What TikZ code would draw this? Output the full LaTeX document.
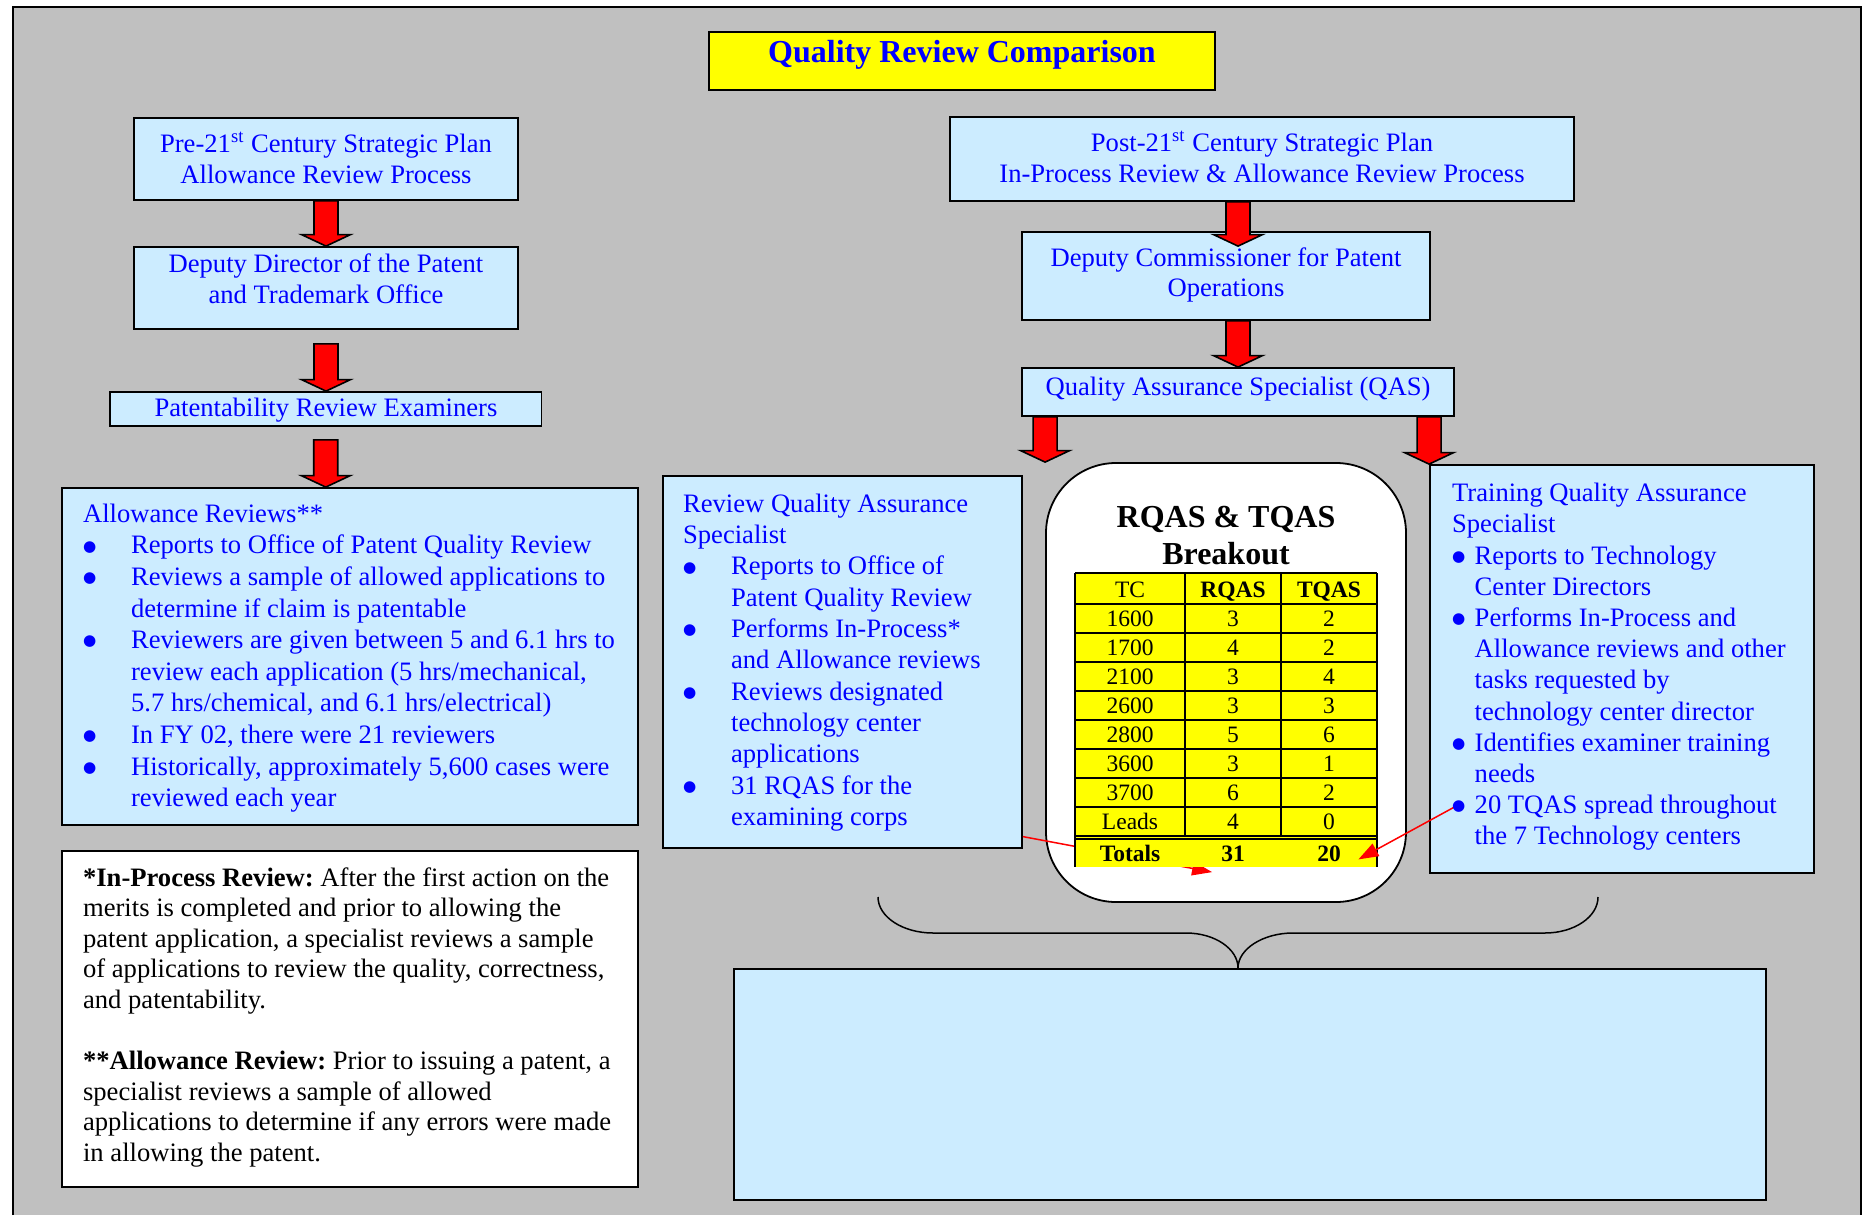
\documentclass[tikz,border=0pt]{standalone}
\usepackage{fontspec}
\setmainfont{Liberation Serif}
\newfontfamily\bulfont{DejaVu Sans}
\usetikzlibrary{fit,calc,arrows.meta}
\definecolor{bggray}{HTML}{C0C0C0}
\definecolor{lblue}{HTML}{CCECFF}
\definecolor{tblue}{HTML}{0000FF}
\definecolor{tyellow}{HTML}{FFFF00}
\definecolor{tred}{HTML}{FF0000}
\frenchspacing
\newcommand{\bul}[1]{\makebox[#1][l]{\raisebox{1.4pt}{\bulfont\fontsize{7.6}{8}\selectfont ●}}}
\newcommand{\nsp}{\spaceskip=0pt\xspaceskip=0pt\relax}
\newcommand{\barrow}[2]{\draw[blockarrow] let \p1=(#1), \p2=(#2) in (\x1-6pt,\y1) -- (\x1-6pt,\y2+5.75pt) -- (\x1-12.25pt,\y2+5.75pt) -- (\x1,\y2) -- (\x1+12.25pt,\y2+5.75pt) -- (\x1+6pt,\y2+5.75pt) -- (\x1+6pt,\y1) -- cycle;}
\begin{document}
\begin{tikzpicture}[x=0.5pt,y=-0.5pt,
 box/.style={draw=black,line width=0.9pt,inner sep=0pt},
 bluebox/.style={box,fill=lblue},
 blockarrow/.style={draw=black,line width=0.8pt,fill=tred,line join=miter},
 ctext/.style={text=tblue,font=\fontsize{13.3}{15.8}\selectfont,inner sep=0pt,anchor=base},
 ltext/.style={text=tblue,inner sep=0pt,anchor=base west,align=left,text width=300pt},
 cell/.style={inner sep=0pt,anchor=base,font=\fontsize{11.75}{14}\selectfont},
 tline/.style={draw=black,line width=0.9pt},
 redarrow/.style={draw=tred,line width=0.75pt,-{Triangle[length=10pt,width=7pt]},fill=tred}
]
\useasboundingbox (0,0) rectangle (1862,1215);
\fill[white] (0,0) rectangle (1862,1215);
\fill[bggray] (13,7) rectangle (1862,1215);
\draw[line width=1pt] (13,1215) -- (13,7) -- (1860.5,7) -- (1860.5,1215);

% title
\node[box,fill=tyellow,fit={(709,32) (1215,90)}] (title) {};
% left column boxes
\node[bluebox,fit={(134,118) (518,200)}] (pre) {};
\node[bluebox,fit={(134,247) (518,329)}] (dd) {};
\node[bluebox,fit={(110,392) (541.5,426)}] (pat) {};
\node[bluebox,fit={(62,488) (638,825)}] (allow) {};
\node[box,fill=white,fit={(62,851) (638,1187)}] (foot) {};
% right column boxes
\node[bluebox,fit={(950,117) (1574,201)}] (post) {};
\node[bluebox,fit={(1022,232) (1430,320)}] (dc) {};
\node[bluebox,fit={(1022,368) (1454,416)}] (qas) {};
\node[bluebox,fit={(662.7,476) (1022,847.7)}] (rqa) {};
\node[box,fill=white,rounded corners=35pt,fit={(1046,463) (1406,902)}] (rbox) {};
\node[bluebox,fit={(1430,465) (1814,873)}] (tqas) {};
\node[bluebox,fit={(734,969) (1766,1200)}] (bot) {};

% block arrows
\coordinate (a2s) at ($(dd.south)+(0,14)$);
\coordinate (a3s) at ($(pat.south)+(0,13)$);
\coordinate (a3e) at (pat.south |- allow.north);
\coordinate (a4s) at (qas.north |- post.south);
\coordinate (a4e) at ($(qas.north |- dc.north)+(0,15)$);
\coordinate (a5s) at (qas.north |- dc.south);
\coordinate (a6s) at (rbox.north west |- qas.south);
\coordinate (a7s) at (tqas.north west |- qas.south);
\barrow{pre.south}{dd.north}
\barrow{a2s}{pat.north}
\barrow{a3s}{a3e}
\barrow{a4s}{a4e}
\barrow{a5s}{qas.north}
\barrow{a6s}{rbox.north west}
\barrow{a7s}{tqas.north west}

% red arrow from RQAS box (under the table)
\coordinate (r1s) at ($(rqa.south east)+(0,-12)$);
\coordinate (r1e) at ($(rbox.north west)+(167,410)$);
\draw[redarrow] (r1s) -- (r1e);

% table
\node[fill=tyellow,inner sep=0pt,fit={(1075,573) (1377,867)}] (tbl) {};
\foreach \yy in {573,604,633,662,691,720,749,778,807,836,839}
  \draw[tline] (1075,\yy) -- (1377,\yy);
\draw[tline] (1075,573) -- (1075,867);
\draw[tline] (1377,573) -- (1377,867);
\foreach \xx in {1185,1281} \draw[tline] (\xx,573) -- (\xx,836);
\node[cell] (hTC) at (1130,597) {TC};
\node[cell,font=\fontsize{11.75}{14}\selectfont\bfseries] (hRQ) at (1233,597) {RQAS};
\node[cell,font=\fontsize{11.75}{14}\selectfont\bfseries] (hTQ) at (1329,597) {TQAS};
\foreach \tc/\rq/\tq [count=\i] in {1600/3/2,1700/4/2,2100/3/4,2600/3/3,2800/5/6,3600/3/1,3700/6/2,Leads/4/0}{
  \pgfmathsetmacro{\yb}{626+29*(\i-1)}
  \node[cell] (tc\i) at (1130,\yb) {\tc};
  \node[cell] (rq\i) at (1233,\yb) {\rq};
  \node[cell] (tq\i) at (1329,\yb) {\tq};
}
\node[cell,font=\fontsize{11.75}{14}\selectfont\bfseries] (totl) at (1130,861.5) {Totals};
\node[cell,font=\fontsize{11.75}{14}\selectfont\bfseries] (totr) at (1233,861.5) {31};
\node[cell,font=\fontsize{11.75}{14}\selectfont\bfseries] (tott) at (1329,861.5) {20};

% red arrow from TQAS box
\coordinate (r2s) at ($(tqas.north west)+(27,342)$);
\coordinate (r2e) at ($(tbl.south east)+(-19,-8)$);
\draw[redarrow] (r2s) -- (r2e);

% texts
\node[inner sep=0pt,anchor=base,text=tblue,font=\fontsize{16}{19}\selectfont\bfseries] (titletxt) at (962,62.7) {Quality Review Comparison};
\node[ctext] (pre1) at (326,152.7) {Pre-21\textsuperscript{st} Century Strategic Plan};
\node[ctext] (pre2) at (326,183.3) {Allowance Review Process};
\node[ctext] (dd1) at (326,272.7) {Deputy Director of the Patent};
\node[ctext] (dd2) at (326,303.3) {and Trademark Office};
\node[ctext] (pat1) at (326,416.7) {Patentability Review Examiners};
\node[ctext] (post1) at (1262,151.7) {Post-21\textsuperscript{st} Century Strategic Plan};
\node[ctext] (post2) at (1262,182.7) {In-Process Review \& Allowance Review Process};
\node[ctext] (dc1) at (1226,266.7) {Deputy Commissioner for Patent};
\node[ctext] (dc2) at (1226,296.7) {Operations};
\node[ctext] (qas1) at (1238,395) {Quality Assurance Specialist (QAS)};
\node[inner sep=0pt,anchor=base,font=\fontsize{16}{19}\selectfont\bfseries] (rh1) at (1226,527.3) {RQAS \& TQAS};
\node[inner sep=0pt,anchor=base,font=\fontsize{16}{19}\selectfont\bfseries] (rh2) at (1226,564) {Breakout};

\node[ltext,font=\fontsize{13.3}{15.8}\selectfont] (allowtxt) at (82.7,522.3) {\nsp Allowance Reviews**\\
\bul{24pt}Reports to Office of Patent Quality Review\\
\bul{24pt}Reviews a sample of allowed applications to\\
\hspace*{24pt}determine if claim is patentable\\
\bul{24pt}Reviewers are given between 5 and 6.1 hrs to\\
\hspace*{24pt}review each application (5 hrs/mechanical,\\
\hspace*{24pt}5.7 hrs/chemical, and 6.1 hrs/electrical)\\
\bul{24pt}In FY 02, there were 21 reviewers\\
\bul{24pt}Historically, approximately 5,600 cases were\\
\hspace*{24pt}reviewed each year};

\node[ltext,font=\fontsize{13.3}{15.65}\selectfont] (rqatxt) at (682.7,512.3) {\nsp Review Quality Assurance\\
Specialist\\
\bul{24pt}Reports to Office of\\
\hspace*{24pt}Patent Quality Review\\
\bul{24pt}Performs In-Process*\\
\hspace*{24pt}and Allowance reviews\\
\bul{24pt}Reviews designated\\
\hspace*{24pt}technology center\\
\hspace*{24pt}applications\\
\bul{24pt}31 RQAS for the\\
\hspace*{24pt}examining corps};

\node[ltext,font=\fontsize{13.3}{15.6}\selectfont] (tqastxt) at (1451.7,501.7) {\nsp Training Quality Assurance\\
Specialist\\
\bul{11.3pt}Reports to Technology\\
\hspace*{11.3pt}Center Directors\\
\bul{11.3pt}Performs In-Process and\\
\hspace*{11.3pt}Allowance reviews and other\\
\hspace*{11.3pt}tasks requested by\\
\hspace*{11.3pt}technology center director\\
\bul{11.3pt}Identifies examiner training\\
\hspace*{11.3pt}needs\\
\bul{11.3pt}20 TQAS spread throughout\\
\hspace*{11.3pt}the 7 Technology centers};

\node[ltext,text=black,font=\fontsize{13.3}{15.3}\selectfont] (foottxt) at (82.7,886) {\nsp\textbf{*In-Process Review:} After the first action on the\\
merits is completed and prior to allowing the\\
patent application, a specialist reviews a sample\\
of applications to review the quality, correctness,\\
and patentability.\\[15.3pt]
\textbf{**Allowance Review:} Prior to issuing a patent, a\\
specialist reviews a sample of allowed\\
applications to determine if any errors were made\\
in allowing the patent.};

% brace
\draw[line width=0.75pt] (878,897) .. controls (878,917) and (903,933) .. (933,933) -- (1186,933) .. controls (1215,933) and (1238,949) .. (1238,968) .. controls (1238,949) and (1263,933) .. (1293,933) -- (1545,933) .. controls (1574,933) and (1598,917) .. (1598,897);
\end{tikzpicture}
\end{document}
